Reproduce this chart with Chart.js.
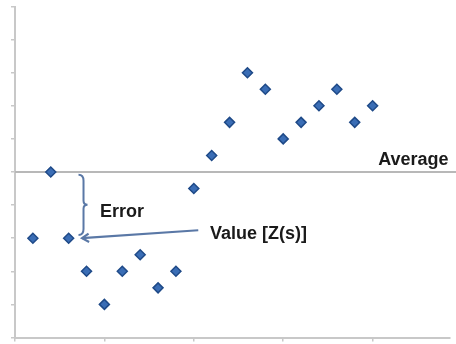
<!DOCTYPE html>
<html><head><meta charset="utf-8">
<script src="https://cdn.jsdelivr.net/npm/chart.js@4/dist/chart.umd.min.js"></script>
<style>html,body{margin:0;padding:0;background:#fff}#wrap{width:456px;height:344px}</style>
</head><body><div id="wrap"><canvas id="c"></canvas></div>
<script>
const xValues = [1,2,3,4,5,6,7,8,9,10,11,12,13,14,15,16,17,18,19,20];
const yValues = [3,5,3,2,1,2,2.5,1.5,2,4.5,5.5,6.5,8,7.5,6,6.5,7,7.5,6.5,7];
const averageValue = 5;
const xRange = [0, 24.3];
const averageLineEnd = 24.7;
const yRange = [0, 10];
const labels = {average: 'Average', error: 'Error', value: 'Value [Z(s)]'};

const points = xValues.map((x, i) => ({x, y: yValues[i]}));

const annot = {
  id: 'annot',
  afterDatasetsDraw(chart) {
    const {ctx, scales: {x, y}} = chart;
    ctx.save();
    ctx.font = 'bold 18px "Liberation Sans", Arial, sans-serif';
    ctx.fillStyle = '#1a1a1a';
    ctx.textBaseline = 'alphabetic';
    ctx.textAlign = 'right';
    ctx.fillText(labels.average, x.getPixelForValue(24.25), y.getPixelForValue(averageValue) - 7);
    ctx.textAlign = 'left';
    ctx.fillText(labels.error, x.getPixelForValue(4.75), y.getPixelForValue(3.65));
    ctx.fillText(labels.value, x.getPixelForValue(10.9), y.getPixelForValue(2.98));
    // brace
    const bx = x.getPixelForValue(3.72);
    const bTop = y.getPixelForValue(4.92), bBot = y.getPixelForValue(3.1);
    const bMid = (bTop + bBot) / 2;
    ctx.strokeStyle = '#5a78a6';
    ctx.lineWidth = 2;
    ctx.beginPath();
    ctx.moveTo(bx - 3, bTop);
    ctx.quadraticCurveTo(bx + 2, bTop, bx + 2, bTop + 6);
    ctx.lineTo(bx + 2, bMid - 4);
    ctx.quadraticCurveTo(bx + 2, bMid, bx + 6, bMid);
    ctx.quadraticCurveTo(bx + 2, bMid, bx + 2, bMid + 4);
    ctx.lineTo(bx + 2, bBot - 6);
    ctx.quadraticCurveTo(bx + 2, bBot, bx - 3, bBot);
    ctx.stroke();
    // arrow
    const ax1 = x.getPixelForValue(10.25), ay1 = y.getPixelForValue(3.24);
    const ax2 = x.getPixelForValue(3.75), ay2 = y.getPixelForValue(3.0);
    ctx.lineWidth = 2.2;
    ctx.beginPath();
    ctx.moveTo(ax1, ay1);
    ctx.lineTo(ax2, ay2);
    ctx.stroke();
    const ang = Math.atan2(ay2 - ay1, ax2 - ax1);
    ctx.beginPath();
    ctx.moveTo(ax2 + 8 * Math.cos(ang + Math.PI - 0.55), ay2 + 8 * Math.sin(ang + Math.PI - 0.55));
    ctx.lineTo(ax2, ay2);
    ctx.lineTo(ax2 + 8 * Math.cos(ang + Math.PI + 0.55), ay2 + 8 * Math.sin(ang + Math.PI + 0.55));
    ctx.stroke();
    ctx.restore();
  }
};

new Chart(document.getElementById('c'), {
  type: 'scatter',
  data: {
    datasets: [
      {
        type: 'line',
        data: [{x: xRange[0], y: averageValue}, {x: averageLineEnd, y: averageValue}],
        borderColor: '#b8b8b8', borderWidth: 2, pointRadius: 0, order: 2, clip: false
      },
      {
        data: points,
        pointStyle: 'rectRot', pointRadius: 5,
        backgroundColor: '#3a6db5', borderColor: '#1f4a88', borderWidth: 1.5, order: 1
      }
    ]
  },
  options: {
    responsive: true, maintainAspectRatio: false, animation: false,
    layout: {padding: {left: 11, top: 5, right: 0, bottom: 2}},
    plugins: {legend: {display: false}, tooltip: {enabled: false}},
    scales: {
      x: {
        type: 'linear', min: xRange[0], max: xRange[1],
        ticks: {display: false, stepSize: 5, includeBounds: false},
        grid: {drawOnChartArea: false, tickLength: 4, color: '#c8c8c8', lineWidth: 1.5},
        border: {color: '#c8c8c8', width: 2}
      },
      y: {
        min: yRange[0], max: yRange[1],
        ticks: {display: false, stepSize: 1},
        grid: {drawOnChartArea: false, tickLength: 4, color: '#c8c8c8', lineWidth: 1.5},
        border: {color: '#c8c8c8', width: 2}
      }
    }
  },
  plugins: [annot]
});
</script></body></html>
